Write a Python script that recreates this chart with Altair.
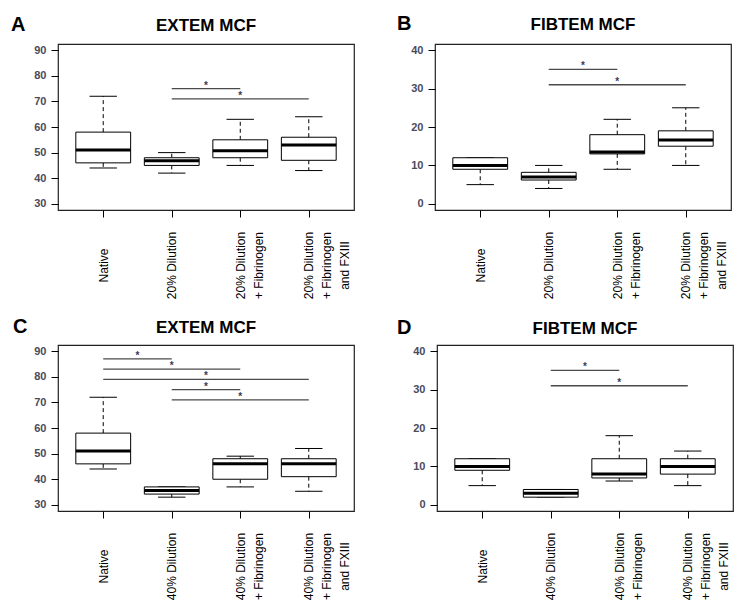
import altair as alt
import pandas as pd

# ---------------- data ----------------
positions = [1, 2, 3, 4]
labels_20 = ["Native", "20% Dilution", "20% Dilution|+ Fibrinogen", "20% Dilution|+ Fibrinogen|and FXIII"]
labels_40 = ["Native", "40% Dilution", "40% Dilution|+ Fibrinogen", "40% Dilution|+ Fibrinogen|and FXIII"]

# Panel A: EXTEM MCF, 20% dilution
a_lower = [44, 42, 45, 43]
a_q1 = [46, 45, 48, 47]
a_med = [51, 46.8, 50.7, 53]
a_q3 = [58, 48, 55, 56]
a_upper = [72, 50, 63, 64]
a_sig_from = [2, 2]
a_sig_to = [3, 4]
a_sig_y = [75, 71]

# Panel B: FIBTEM MCF, 20% dilution
b_lower = [5, 4, 9, 10]
b_q1 = [9, 6.2, 13, 15]
b_med = [10, 7, 13.5, 16.6]
b_q3 = [12, 8.2, 18, 19]
b_upper = [12, 10, 22, 25]
b_sig_from = [2, 2]
b_sig_to = [3, 4]
b_sig_y = [35, 31]

# Panel C: EXTEM MCF, 40% dilution
c_lower = [44, 33, 37, 35.3]
c_q1 = [46, 34.2, 40, 41]
c_med = [51, 35.6, 46, 46]
c_q3 = [58, 37, 48, 48]
c_upper = [72, 37, 49, 52]
c_sig_from = [1, 1, 1, 2, 2]
c_sig_to = [2, 3, 4, 3, 4]
c_sig_y = [87, 83, 79, 75, 71]

# Panel D: FIBTEM MCF, 40% dilution
d_lower = [5, 2, 6.2, 5]
d_q1 = [9, 2, 7, 8]
d_med = [10, 3, 8, 10]
d_q3 = [12, 4, 12, 12]
d_upper = [12, 4, 18, 14]
d_sig_from = [2, 2]
d_sig_to = [3, 4]
d_sig_y = [35, 31]

extem_ticks = [30, 40, 50, 60, 70, 80, 90]
fibtem_ticks = [0, 10, 20, 30, 40]

FONT = "Liberation Sans"
W, H = 296, 166


def make_panel(labels, lower, q1, med, q3, upper, sfrom, sto, sy,
               ydomain, yticks, title, letter, letter_dx, letter_dy):
    box = pd.DataFrame({"pos": positions, "lower": lower, "q1": q1,
                        "med": med, "q3": q3, "upper": upper})
    sig = pd.DataFrame({"x1": sfrom, "x2": sto, "y": sy})
    lab = pd.DataFrame({"t": [letter]})

    arr = "[" + ",".join("'" + s + "'" for s in labels) + "]"
    xaxis = alt.Axis(values=positions, labelExpr=f"split({arr}[datum.value - 1], '|')",
                     labelAngle=270, labelAlign="center", labelBaseline="middle",
                     labelPadding=48, labelLineHeight=18, labelFontSize=12,
                     labelFont=FONT, labelColor="black", labelOverlap=False,
                     labelFlush=False, tickSize=7, tickColor="black",
                     domain=False, grid=False)
    yaxis = alt.Axis(values=yticks, labelFontSize=11, labelFontWeight="bold",
                     labelFont=FONT, labelColor="#4a4a5c", labelPadding=5,
                     tickSize=7, tickColor="black", domain=False, grid=False,
                     labelOverlap=False, labelFlush=False)
    xs = alt.Scale(domain=[0.34, 4.66], nice=False, zero=False)
    ys = alt.Scale(domain=ydomain, nice=False, zero=False)

    def X(f):
        return alt.X(f, type="quantitative", scale=xs, axis=xaxis, title=None)

    def Y(f):
        return alt.Y(f, type="quantitative", scale=ys, axis=yaxis, title=None)

    base = alt.Chart(box).transform_calculate(
        left="datum.pos - 0.4", right="datum.pos + 0.4",
        capl="datum.pos - 0.2", capr="datum.pos + 0.2")

    wh_up = base.mark_rule(color="black", strokeWidth=1, strokeDash=[4, 3]).encode(
        x=X("pos"), y=Y("q3"), y2="upper")
    wh_lo = base.mark_rule(color="black", strokeWidth=1, strokeDash=[4, 3]).encode(
        x=X("pos"), y=Y("q1"), y2="lower")
    cap_up = base.mark_rule(color="black", strokeWidth=1).encode(
        x=X("capl"), x2="capr", y=Y("upper"))
    cap_lo = base.mark_rule(color="black", strokeWidth=1).encode(
        x=X("capl"), x2="capr", y=Y("lower"))
    rect = base.mark_rect(fill="white", stroke="black", strokeWidth=1).encode(
        x=X("left"), x2="right", y=Y("q1"), y2="q3")
    median = base.mark_rule(color="black", strokeWidth=3).encode(
        x=X("left"), x2="right", y=Y("med"))

    sig_base = alt.Chart(sig).transform_calculate(mid="(datum.x1 + datum.x2) / 2")
    sig_lines = sig_base.mark_rule(color="#4a4a4a", strokeWidth=1.3).encode(
        x=X("x1"), x2="x2", y=Y("y"))
    stars = sig_base.mark_text(text="*", fontSize=10, fontWeight="bold", color="#3a3a55",
                               font=FONT, baseline="alphabetic", align="center").encode(
        x=X("mid"), y=Y("y"))

    letter_mark = alt.Chart(lab).mark_text(
        fontSize=20, fontWeight="bold", font=FONT, align="left",
        baseline="alphabetic", color="black").encode(
        text="t:N", x=alt.value(letter_dx), y=alt.value(letter_dy))

    return alt.layer(wh_up, wh_lo, cap_up, cap_lo, rect, median,
                     sig_lines, stars, letter_mark).properties(
        width=W, height=H,
        title=alt.TitleParams(text=title, fontSize=17, fontWeight="bold", font=FONT,
                              anchor="middle", color="black", baseline="alphabetic",
                              offset=-33))


pa = make_panel(labels_20, a_lower, a_q1, a_med, a_q3, a_upper,
                a_sig_from, a_sig_to, a_sig_y, [27.6, 92.4], extem_ticks,
                "EXTEM MCF", "A", -47, -13)
pb = make_panel(labels_20, b_lower, b_q1, b_med, b_q3, b_upper,
                b_sig_from, b_sig_to, b_sig_y, [-1.6, 41.6], fibtem_ticks,
                "FIBTEM MCF", "B", -38, -14)
pc = make_panel(labels_40, c_lower, c_q1, c_med, c_q3, c_upper,
                c_sig_from, c_sig_to, c_sig_y, [27.6, 92.4], extem_ticks,
                "EXTEM MCF", "C", -45, -12)
pd_ = make_panel(labels_40, d_lower, d_q1, d_med, d_q3, d_upper,
                 d_sig_from, d_sig_to, d_sig_y, [-1.6, 41.6], fibtem_ticks,
                 "FIBTEM MCF", "D", -40, -11)

chart = alt.vconcat(
    alt.hconcat(pa, pb, spacing=41),
    alt.hconcat(pc, pd_, spacing=41),
    spacing=16,
).properties(
    padding={"left": 2, "top": 5, "right": 0, "bottom": 0},
    background="white",
).configure_view(
    stroke="#222222", strokeWidth=1.2
)

chart.save("out.html", embed_options={"renderer": "svg", "actions": False})
